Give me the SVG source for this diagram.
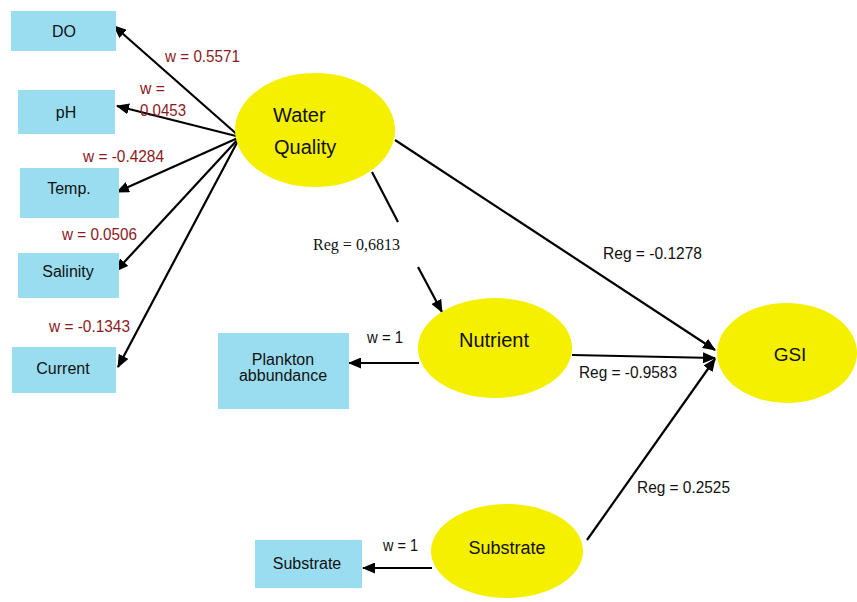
<svg xmlns="http://www.w3.org/2000/svg" width="857" height="602" viewBox="0 0 857 602">
<style>
.box{fill:#9BDDF0;}
.ell{fill:#F5EF00;}
.bt{font-family:"Liberation Sans",Arial,sans-serif;font-size:16px;fill:#111;text-anchor:middle;}
.nt{font-family:"Liberation Sans",Arial,sans-serif;fill:#111;}
.w{font-family:"Liberation Sans",Arial,sans-serif;font-size:17px;fill:#8B1A24;}
.r{font-family:"Liberation Sans",Arial,sans-serif;font-size:16px;fill:#111;}
.rs{font-family:"Liberation Serif","Times New Roman",serif;font-size:17px;fill:#111;}
.ln{stroke:#000;stroke-width:2.2;fill:none;}
</style>
<defs>
<marker id="ah" viewBox="0 0 13 11" refX="12" refY="5.5" markerWidth="13" markerHeight="11" markerUnits="userSpaceOnUse" orient="auto">
<path d="M0,0 L13,5.5 L0,11 Z" fill="#000"/>
</marker>
</defs>
<rect width="857" height="602" fill="#fff"/>
<g id="connectors">
<line class="ln" x1="240" y1="137" x2="114" y2="26" marker-end="url(#ah)"/>
<line class="ln" x1="240" y1="137" x2="117" y2="106" marker-end="url(#ah)"/>
<line class="ln" x1="240" y1="137" x2="117" y2="192" marker-end="url(#ah)"/>
<line class="ln" x1="240" y1="137" x2="116" y2="271" marker-end="url(#ah)"/>
<line class="ln" x1="240" y1="137" x2="118" y2="367" marker-end="url(#ah)"/>
<line class="ln" x1="372" y1="172" x2="398" y2="222"/>
<line class="ln" x1="418" y1="267" x2="442" y2="312" marker-end="url(#ah)"/>
<line class="ln" x1="395" y1="140" x2="715" y2="350" marker-end="url(#ah)"/>
<line class="ln" x1="572" y1="355" x2="715" y2="358" marker-end="url(#ah)"/>
<line class="ln" x1="587" y1="540" x2="715" y2="359" marker-end="url(#ah)"/>
<line class="ln" x1="419" y1="363" x2="349" y2="363" marker-end="url(#ah)"/>
<line class="ln" x1="432" y1="568" x2="363" y2="568" marker-end="url(#ah)"/>
<text class="w" x="165" y="62" textLength="75" lengthAdjust="spacingAndGlyphs">w = 0.5571</text>
<text class="w" x="140" y="94" textLength="25" lengthAdjust="spacingAndGlyphs">w =</text>
<text class="w" x="140" y="116" textLength="46" lengthAdjust="spacingAndGlyphs">0.0453</text>
<text class="w" x="83" y="162" textLength="81" lengthAdjust="spacingAndGlyphs">w = -0.4284</text>
<text class="w" x="62" y="240" textLength="75" lengthAdjust="spacingAndGlyphs">w = 0.0506</text>
<text class="w" x="49" y="332" textLength="81" lengthAdjust="spacingAndGlyphs">w = -0.1343</text>
<text class="rs" x="313" y="250" textLength="87" lengthAdjust="spacingAndGlyphs">Reg = 0,6813</text>
<text class="r" x="603" y="259" textLength="99" lengthAdjust="spacingAndGlyphs">Reg = -0.1278</text>
<text class="r" x="579" y="378" textLength="98" lengthAdjust="spacingAndGlyphs">Reg = -0.9583</text>
<text class="r" x="637" y="493" textLength="93" lengthAdjust="spacingAndGlyphs">Reg = 0.2525</text>
<text class="r" x="367" y="343" textLength="36" lengthAdjust="spacingAndGlyphs">w = 1</text>
<text class="r" x="383" y="551" textLength="35" lengthAdjust="spacingAndGlyphs">w = 1</text>
</g>
<g id="DO"><rect class="box" x="11" y="11" width="105" height="40"/><text class="bt" x="64" y="37">DO</text></g>
<g id="pH"><rect class="box" x="18" y="90" width="97" height="44"/><text class="bt" x="66" y="118">pH</text></g>
<g id="Temp"><rect class="box" x="20" y="168" width="99" height="50"/><text class="bt" x="69" y="194">Temp.</text></g>
<g id="Salinity"><rect class="box" x="18" y="253" width="101" height="45"/><text class="bt" x="68" y="277">Salinity</text></g>
<g id="Current"><rect class="box" x="12" y="347" width="104" height="46"/><text class="bt" x="63" y="374">Current</text></g>
<g id="Plankton"><rect class="box" x="218" y="333" width="131" height="76"/><text class="bt" x="283" y="365" font-size="14.5">Plankton</text><text class="bt" x="283" y="381" font-size="14.5">abbundance</text></g>
<g id="SubstrateBox"><rect class="box" x="255" y="540" width="107" height="48"/><text class="bt" x="307" y="569">Substrate</text></g>
<g id="WaterQuality"><ellipse class="ell" cx="315" cy="130" rx="80" ry="57"/><text class="nt" x="273" y="122" font-size="20">Water</text><text class="nt" x="274" y="154" font-size="20">Quality</text></g>
<g id="Nutrient"><ellipse class="ell" cx="495" cy="348" rx="77" ry="50"/><text class="nt" x="494" y="347" font-size="20" text-anchor="middle">Nutrient</text></g>
<g id="GSI"><ellipse class="ell" cx="787" cy="353" rx="70" ry="50"/><text class="nt" x="790" y="361" font-size="19" text-anchor="middle">GSI</text></g>
<g id="Substrate"><ellipse class="ell" cx="507" cy="551" rx="76" ry="47"/><text class="nt" x="507" y="554" font-size="18" text-anchor="middle">Substrate</text></g>
</svg>
